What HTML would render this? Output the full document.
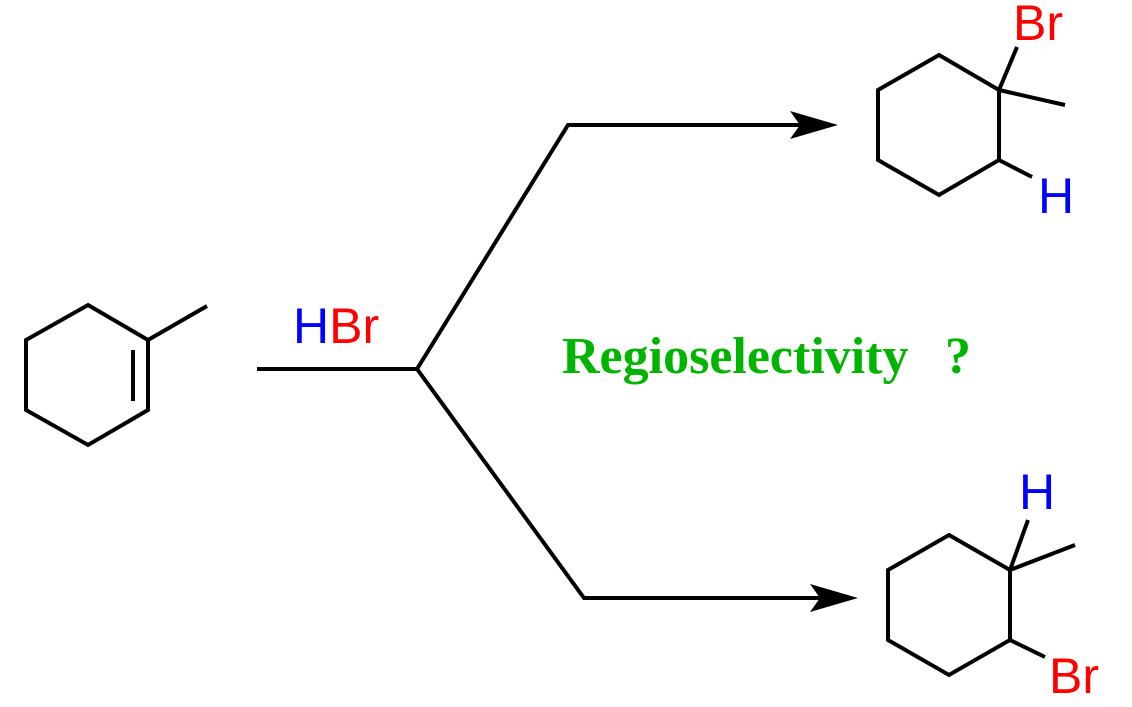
<!DOCTYPE html>
<html><head><meta charset="utf-8"><style>
html,body{margin:0;padding:0;background:#fff;}
svg{display:block;}
</style></head><body>
<svg width="1132" height="707" viewBox="0 0 1132 707" xmlns="http://www.w3.org/2000/svg">
<g stroke="#000" stroke-width="4" fill="none" stroke-linejoin="miter">
<polygon points="88,305 148,340 148,410 88,445 26,410 26,340"/>
<line x1="148" y1="340" x2="207" y2="306"/>
<line x1="133" y1="350" x2="133" y2="401"/>
<polyline points="257,369 417,369 568,125 800,125"/>
<polyline points="417,369 584,598 820,598"/>
<polygon points="939,55 999,90 999,160 939,195 878,160 878,90"/>
<line x1="999" y1="90" x2="1065" y2="105"/>
<line x1="999" y1="90" x2="1017" y2="47"/>
<line x1="999" y1="160" x2="1032" y2="177"/>
<polygon points="949,535 1010,570 1010,640 949,675 888,640 888,570"/>
<line x1="1010" y1="570" x2="1075" y2="545"/>
<line x1="1010" y1="570" x2="1028" y2="520"/>
<line x1="1010" y1="640" x2="1045" y2="657"/>
</g>
<g fill="#000">
<polygon points="838,125 790,111 800,125 790,139"/>
<polygon points="858,598 810,584 820,598 810,612"/>
</g>
<g font-family="Liberation Sans, sans-serif" font-size="50">
<text x="1013" y="40" fill="#ff0000">Br</text>
<text x="1038" y="213" fill="#0000ff">H</text>
<text x="1019" y="509" fill="#0000ff">H</text>
<text x="1049" y="693" fill="#ff0000">Br</text>
<text x="293" y="343"><tspan fill="#0000ff">H</tspan><tspan fill="#ff0000">Br</tspan></text>
</g>
<g font-family="Liberation Serif, serif" font-weight="bold" font-size="52" fill="#00b400">
<text x="562" y="373">Regioselectivity</text>
<text x="945" y="373">?</text>
</g>
</svg>
</body></html>
